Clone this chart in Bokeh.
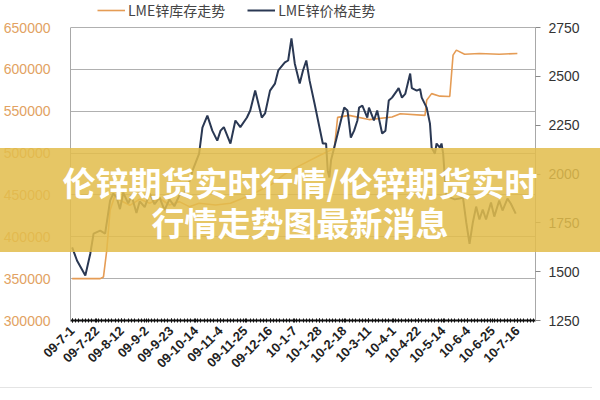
from bokeh.plotting import figure
from bokeh.models import (Range1d, LinearAxis, FixedTicker, ColumnDataSource, Legend, LegendItem,
                          NumeralTickFormatter, Div)
from bokeh.layouts import column
from bokeh.embed import file_html
from bokeh.resources import INLINE

x_labels = ["09-7-1", "09-7-22", "09-8-12", "09-9-2", "09-9-23", "09-10-14",
            "09-11-4", "09-11-25", "09-12-16", "10-1-7", "10-1-28", "10-2-18",
            "10-3-11", "10-4-1", "10-4-22", "10-5-14", "10-6-4", "10-6-25", "10-7-16"]
label_step = 15

left_ticks = [300000, 350000, 400000, 450000, 500000, 550000, 600000, 650000]
right_ticks = [1250, 1500, 1750, 2000, 2250, 2500, 2750]

stock_name = "LME锌库存走势"
price_name = "LME锌价格走势"
title_line1 = "伦锌期货实时行情/伦锌期货实时"
title_line2 = "行情走势图最新消息"

price_day = [0, 3, 8, 11, 13, 17, 20, 23, 25, 27, 29, 31, 34, 36, 39, 41, 44, 47, 50, 53, 56, 59,
             62, 65, 68, 70, 73, 77, 79, 82, 85, 88, 90, 92, 96, 99, 102, 106, 108, 111, 115,
             117, 120, 123, 125, 129, 131, 133, 135, 138, 140, 142, 144, 147, 150, 152, 154, 155,
             156, 157, 160, 163, 165, 167, 169, 171, 173, 174, 176, 179, 180, 183, 185, 188, 190,
             192, 194, 197, 198, 200, 202, 205, 206, 209, 211, 212, 215, 217, 218, 220, 221, 223,
             224, 225, 226, 227, 229, 232, 235, 237, 239, 241, 243, 245, 247, 249, 251, 254, 256,
             259, 261, 264, 266, 269]
price_val = [1624, 1556, 1480, 1592, 1695, 1710, 1695, 1864, 1900, 1880, 1820, 1905, 1850, 1890,
             1800, 1860, 1830, 1900, 1845, 1880, 1815, 1870, 1835, 1890, 1905, 1930, 2017, 2104,
             2238, 2299, 2222, 2171, 2222, 2240, 2156, 2274, 2240, 2289, 2325, 2427, 2289, 2310,
             2427, 2463, 2530, 2571, 2581, 2694, 2566, 2463, 2530, 2581, 2478, 2361, 2238, 2156,
             2156, 2017, 1982, 2070, 2171, 2274, 2340, 2325, 2186, 2222, 2274, 2340, 2350, 2289,
             2340, 2274, 2325, 2207, 2222, 2376, 2391, 2427, 2440, 2391, 2410, 2514, 2440, 2427,
             2435, 2391, 2340, 2258, 2135, 2104, 2156, 2135, 2156, 2104, 1982, 1890, 1880, 1870,
             1875, 1880, 1752, 1643, 1752, 1833, 1767, 1818, 1767, 1854, 1782, 1864, 1813, 1874,
             1849, 1797]

stock_day = [0, 17, 19, 21, 23, 26, 29, 35, 41, 47, 53, 59, 65, 71, 77, 87, 96, 108, 120, 129,
             138, 150, 159, 161, 168, 180, 194, 199, 214, 215, 218, 223, 229, 231, 233, 238, 247,
             259, 270]
stock_val = [350000, 350000, 352000, 384000, 431600, 449500, 443600, 437600, 445000, 440000,
             446000, 438000, 442000, 436000, 440000, 438000, 440000, 449500, 461500, 475000,
             485000, 497000, 505600, 542600, 545000, 540000, 543000, 547000, 545000, 563000,
             571000, 568000, 567600, 617000, 623000, 618000, 619000, 618000, 619000]

# ---- layout geometry (pixels) ----
W, H = 600, 400
B_LEFT, B_RIGHT, B_TOP, B_BOTTOM = 70, 65, 0, 80
AXIS_TOP_GAP = 27            # space inside the frame above the top gridline (for the legend)
frame_h = H - B_TOP - B_BOTTOM
axis_h = frame_h - AXIS_TOP_GAP
lmin, lmax = left_ticks[0], left_ticks[-1]
rmin, rmax = right_ticks[0], right_ticks[-1]
left_end = lmin + (lmax - lmin) * frame_h / axis_h
right_end = rmin + (rmax - rmin) * frame_h / axis_h

p = figure(width=W, height=H, output_backend="svg", toolbar_location=None,
           x_range=Range1d(-1, 281), y_range=Range1d(lmin, left_end),
           min_border_left=B_LEFT, min_border_right=B_RIGHT,
           min_border_top=B_TOP, min_border_bottom=B_BOTTOM)
p.extra_y_ranges = {"price": Range1d(rmin, right_end)}
p.outline_line_color = None

p.xgrid.visible = False
p.ygrid.ticker = FixedTicker(ticks=left_ticks)
p.ygrid.grid_line_color = "#b0b0b0"

la = p.yaxis[0]
la.ticker = FixedTicker(ticks=left_ticks)
la.bounds = (lmin, lmax)
la.formatter = NumeralTickFormatter(format="0")
la.axis_line_color = "#a8a8a8"
la.major_tick_line_color = None
la.minor_tick_line_color = None
la.major_label_standoff = 14
la.major_label_text_color = "#E2A262"
la.major_label_text_font_size = "14px"

ra = LinearAxis(y_range_name="price", ticker=FixedTicker(ticks=right_ticks), bounds=(rmin, rmax))
ra.axis_line_color = "#a8a8a8"
ra.major_tick_line_color = "#888888"
ra.major_tick_out = 5
ra.major_tick_in = 0
ra.major_label_standoff = 8
ra.major_label_text_color = "#333333"
ra.major_label_text_font_size = "14px"
p.add_layout(ra, "right")

label_pos = [i * label_step for i in range(len(x_labels))]
xa = p.xaxis[0]
xa.ticker = FixedTicker(ticks=label_pos, minor_ticks=list(range(0, 281, 2)))
xa.major_label_overrides = {pos: lab for pos, lab in zip(label_pos, x_labels)}
xa.major_label_orientation = 0.785398
xa.axis_line_color = "#111111"
xa.axis_line_width = 2
xa.major_tick_line_color = "#111111"
xa.major_tick_in = 2
xa.major_tick_out = 2
xa.minor_tick_line_color = "#111111"
xa.minor_tick_in = 2
xa.minor_tick_out = 2
xa.major_label_standoff = 6
xa.major_label_text_color = "#222222"
xa.major_label_text_font_style = "bold"
xa.major_label_text_font_size = "13px"

stock_src = ColumnDataSource(dict(x=stock_day, y=stock_val))
price_src = ColumnDataSource(dict(x=price_day, y=price_val))
r_stock = p.line("x", "y", source=stock_src, line_color="#E59C55", line_width=1.6)
r_price = p.line("x", "y", source=price_src, line_color="#2A3853", line_width=2,
                 y_range_name="price")

legend = Legend(items=[LegendItem(label=stock_name, renderers=[r_stock]),
                       LegendItem(label=price_name, renderers=[r_price])],
                orientation="horizontal", location=(27, frame_h - 20))
legend.background_fill_alpha = 0
legend.border_line_color = None
legend.padding = 0
legend.margin = 0
legend.spacing = 22
legend.glyph_width = 28
legend.glyph_height = 14
legend.label_height = 14
legend.label_standoff = 3
legend.label_text_font = "Noto Sans CJK SC"
legend.label_text_font_size = "14px"
legend.label_text_color = "#444444"
p.add_layout(legend)

# semi-transparent banner with headline laid over the chart
banner = Div(
    text=("<div style=\"width:600px;text-align:center;color:white;font-family:'Noto Sans CJK SC';"
          "font-weight:bold;font-size:33px;line-height:40px;padding-top:14px;\">"
          f"{title_line1}<br>{title_line2}</div>"),
    width=600, height=104,
    styles={"position": "absolute", "top": "148px", "left": "0px", "z-index": "10",
            "background-color": "rgba(226, 189, 76, 0.86)", "margin": "0px"})
rule = Div(text="", width=592, height=1,
           styles={"position": "absolute", "top": "387px", "left": "0px",
                   "background-color": "#e4e4e4", "margin": "0px"})

layout = column(p, banner, rule)
open("out.html", "w").write(file_html(layout, INLINE))
